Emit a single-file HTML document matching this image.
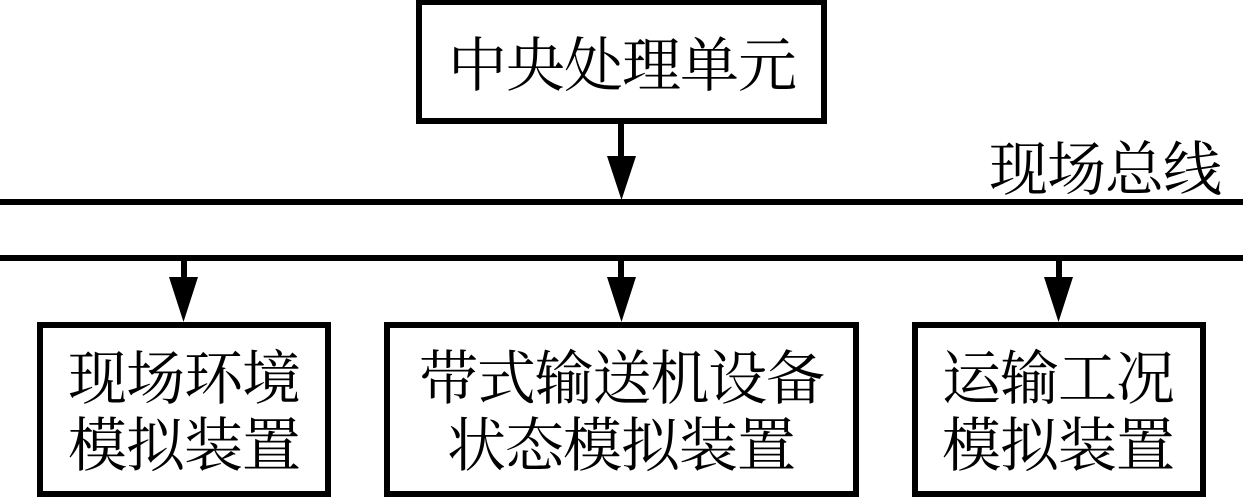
<!DOCTYPE html>
<html>
<head>
<meta charset="utf-8">
<style>
html,body{margin:0;padding:0;background:#fff;width:1243px;height:498px;overflow:hidden}
svg{display:block}
text{font-family:"Liberation Serif","Noto Serif CJK SC",serif;font-size:59px;fill:#000}
</style>
</head>
<body>
<svg width="1243" height="498" viewBox="0 0 1243 498" xmlns="http://www.w3.org/2000/svg">
<rect width="1243" height="498" fill="#fff"/>
<g fill="none" stroke="#000" stroke-width="6">
<rect x="419" y="2" width="405" height="119"/>
<rect x="40" y="325" width="288" height="169"/>
<rect x="387" y="325" width="469" height="169"/>
<rect x="915" y="325" width="288" height="169"/>
</g>
<g fill="#000">
<rect x="0" y="199" width="1243" height="6"/>
<rect x="0" y="255" width="1243" height="6"/>
<rect x="618" y="124" width="6" height="34"/>
<polygon points="607,156 636,156 621.5,200"/>
<rect x="181" y="261" width="6" height="18"/>
<polygon points="169,277 198,277 183.5,322"/>
<rect x="618" y="261" width="6" height="18"/>
<polygon points="607,277 636,277 621.5,322"/>
<rect x="1056" y="261" width="6" height="18"/>
<polygon points="1044,277 1073,277 1058.5,322"/>
</g>
<text x="448" y="86" textLength="349">中央处理单元</text>
<text x="989" y="190" textLength="233">现场总线</text>
<text x="68" y="399" textLength="233">现场环境</text>
<text x="68" y="466" textLength="233">模拟装置</text>
<text x="419" y="399" textLength="406">带式输送机设备</text>
<text x="447" y="466" textLength="349">状态模拟装置</text>
<text x="942" y="399" textLength="233">运输工况</text>
<text x="942" y="466" textLength="233">模拟装置</text>
</svg>
</body>
</html>
